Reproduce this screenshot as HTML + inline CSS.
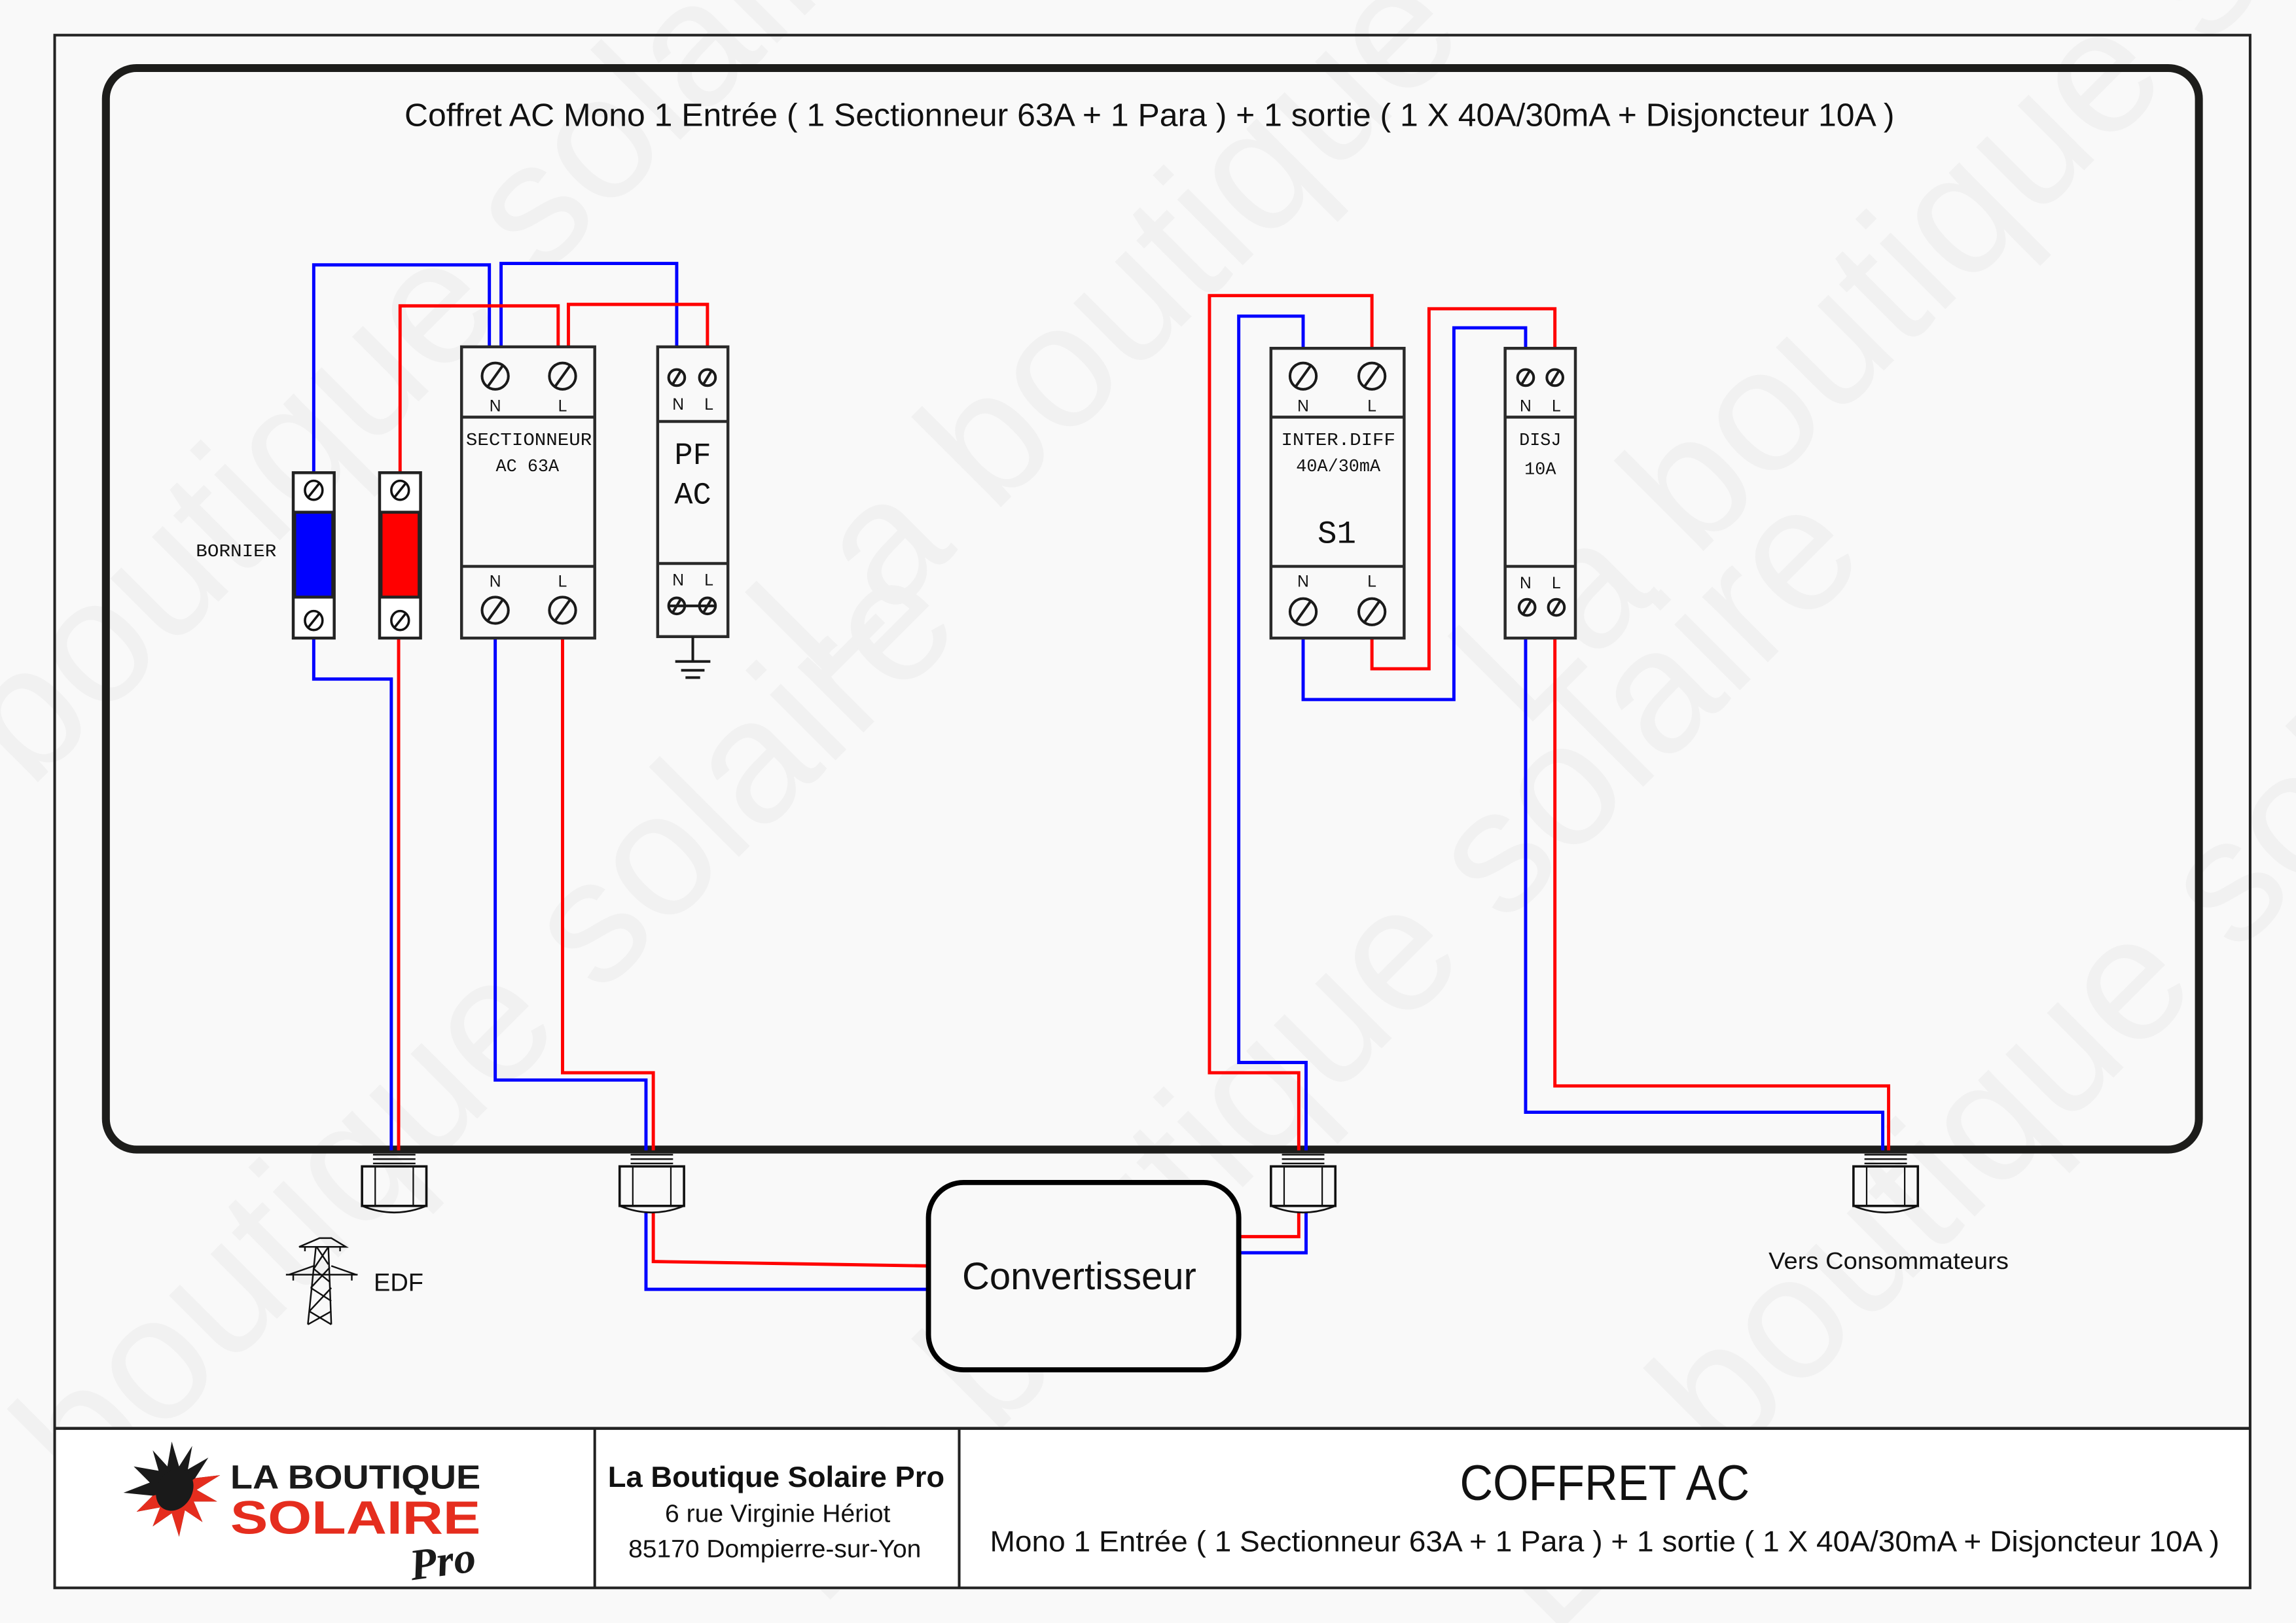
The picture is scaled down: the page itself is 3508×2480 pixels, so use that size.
<!DOCTYPE html>
<html><head><meta charset="utf-8"><style>
html,body{margin:0;padding:0;background:#f9f9f9;}
svg{display:block;}
.mono{font-family:"Liberation Mono",monospace;fill:#111;}
.sans{font-family:"Liberation Sans",sans-serif;fill:#111;}
</style></head><body>
<svg width="3508" height="2480" viewBox="0 0 1568 1109" xmlns="http://www.w3.org/2000/svg">
<rect x="0" y="0" width="1568" height="1109" fill="#f9f9f9"/>
<!-- watermark -->
<g font-family="Liberation Sans, sans-serif" font-size="120" fill="#f1f1f1">
<text x="0" y="0" transform="translate(560,470) rotate(-45)">La boutique solaire</text>
<text x="0" y="0" transform="translate(1040,500) rotate(-45)">La boutique solaire</text>
<text x="0" y="0" transform="translate(20,540) rotate(-45)">boutique solaire</text>
<text x="0" y="0" transform="translate(60,1030) rotate(-45)">boutique solaire</text>
<text x="0" y="0" transform="translate(560,1100) rotate(-45)">La boutique solaire</text>
<text x="0" y="0" transform="translate(1060,1120) rotate(-45)">La boutique solaire</text>
</g>
<!-- title block -->
<rect x="37" y="976" width="1500" height="109" fill="#fff"/>
<rect x="37" y="24" width="1500" height="1061" fill="none" stroke="#222" stroke-width="1.8"/>
<line x1="37" y1="976" x2="1537" y2="976" stroke="#222" stroke-width="2"/>
<line x1="406" y1="976" x2="406" y2="1085" stroke="#222" stroke-width="1.8"/>
<line x1="655" y1="976" x2="655" y2="1085" stroke="#222" stroke-width="1.8"/>
<!-- inner box -->
<rect x="72" y="46.5" width="1430" height="739" rx="21" fill="none" stroke="#1d1d1b" stroke-width="5.4"/>
<text class="sans" x="785" y="86" font-size="22" text-anchor="middle" textLength="1018" lengthAdjust="spacingAndGlyphs">Coffret AC Mono 1 Entrée ( 1 Sectionneur 63A + 1 Para ) + 1 sortie ( 1 X 40A/30mA  + Disjoncteur 10A )</text>

<!-- wires -->
<g fill="none" stroke-width="2.2" stroke-linejoin="miter">
<path d="M214,323 V181 H334 V237" stroke="#0000ff"/>
<path d="M342,237 V180 H462 V237" stroke="#0000ff"/>
<path d="M273,323 V209 H381 V237" stroke="#ff0000"/>
<path d="M388,237 V208 H483 V237" stroke="#ff0000"/>
<path d="M214,436 V464 H267 V786" stroke="#0000ff"/>
<path d="M272,436 V786" stroke="#ff0000"/>
<path d="M338,436 V738 H441 V786" stroke="#0000ff"/>
<path d="M384,436 V733 H446 V786" stroke="#ff0000"/>
<path d="M446,828 V862 L634,865" stroke="#ff0000"/>
<path d="M441,828 V881 H634" stroke="#0000ff"/>
<path d="M846,845 H887 V828" stroke="#ff0000"/>
<path d="M846,856 H892 V828" stroke="#0000ff"/>
<path d="M887,786 V733 H826 V202 H937 V238" stroke="#ff0000"/>
<path d="M892,786 V726 H846 V216 H890 V238" stroke="#0000ff"/>
<path d="M937,436 V457 H976 V211 H1062 V238" stroke="#ff0000"/>
<path d="M890,436 V478 H993 V224 H1042 V238" stroke="#0000ff"/>
<path d="M1042,436 V760 H1286 V786" stroke="#0000ff"/>
<path d="M1062,436 V742 H1290 V786" stroke="#ff0000"/>
</g>

<!-- bornier -->
<g stroke="#222" stroke-width="2">
<rect x="200" y="323" width="28" height="113" fill="#fff"/>
<rect x="201" y="350" width="26" height="58" fill="#0000ff"/>
<rect x="259" y="323" width="28" height="113" fill="#fff"/>
<rect x="260" y="350" width="26" height="58" fill="#ff0000"/>
</g>
<g fill="none" stroke="#111" stroke-width="1.6">
<ellipse cx="214" cy="335" rx="6" ry="6.5"/><line x1="210" y1="340" x2="218" y2="330"/>
<ellipse cx="214" cy="424" rx="6" ry="6.5"/><line x1="210" y1="429" x2="218" y2="419"/>
<ellipse cx="273" cy="335" rx="6" ry="6.5"/><line x1="269" y1="340" x2="277" y2="330"/>
<ellipse cx="273" cy="424" rx="6" ry="6.5"/><line x1="269" y1="429" x2="277" y2="419"/>
</g>
<text class="mono" x="161" y="380" font-size="12" text-anchor="middle" textLength="55" lengthAdjust="spacingAndGlyphs">BORNIER</text>

<!-- modules -->
<g fill="#f9f9f9" stroke="#2a2a2a" stroke-width="2">
<rect x="315" y="237" width="91" height="199"/>
<line x1="315" y1="285" x2="406" y2="285"/><line x1="315" y1="387" x2="406" y2="387"/>
<rect x="449" y="237" width="48" height="198"/>
<line x1="449" y1="288" x2="497" y2="288"/><line x1="449" y1="385" x2="497" y2="385"/>
<rect x="868" y="238" width="91" height="198"/>
<line x1="868" y1="285" x2="959" y2="285"/><line x1="868" y1="387" x2="959" y2="387"/>
<rect x="1028" y="238" width="48" height="198"/>
<line x1="1028" y1="285" x2="1076" y2="285"/><line x1="1028" y1="387" x2="1076" y2="387"/>
</g>
<g fill="none" stroke="#1a1a1a" stroke-width="1.8">
<circle cx="338" cy="257" r="9"/><line x1="333" y1="264" x2="343" y2="250"/>
<circle cx="384" cy="257" r="9"/><line x1="379" y1="264" x2="389" y2="250"/>
<circle cx="338" cy="417" r="9"/><line x1="333" y1="424" x2="343" y2="410"/>
<circle cx="384" cy="417" r="9"/><line x1="379" y1="424" x2="389" y2="410"/>
<circle cx="462" cy="258" r="5.5"/><line x1="459" y1="263" x2="465" y2="253"/>
<circle cx="483" cy="258" r="5.5"/><line x1="480" y1="263" x2="486" y2="253"/>
<circle cx="462" cy="414" r="5.5"/><line x1="459" y1="419" x2="465" y2="409"/>
<circle cx="483" cy="414" r="5.5"/><line x1="480" y1="419" x2="486" y2="409"/>
<line x1="456" y1="414" x2="489" y2="414"/>
<line x1="473" y1="435" x2="473" y2="452"/>
<line x1="461" y1="452" x2="485" y2="452"/><line x1="465" y1="458" x2="481" y2="458"/><line x1="468" y1="463" x2="478" y2="463"/>
<circle cx="890" cy="257" r="9"/><line x1="885" y1="264" x2="895" y2="250"/>
<circle cx="937" cy="257" r="9"/><line x1="932" y1="264" x2="942" y2="250"/>
<circle cx="890" cy="418" r="9"/><line x1="885" y1="425" x2="895" y2="411"/>
<circle cx="937" cy="418" r="9"/><line x1="932" y1="425" x2="942" y2="411"/>
<circle cx="1042" cy="258" r="5.5"/><line x1="1039" y1="263" x2="1045" y2="253"/>
<circle cx="1062" cy="258" r="5.5"/><line x1="1059" y1="263" x2="1065" y2="253"/>
<circle cx="1043" cy="415" r="5.5"/><line x1="1040" y1="420" x2="1046" y2="410"/>
<circle cx="1063" cy="415" r="5.5"/><line x1="1060" y1="420" x2="1066" y2="410"/>
</g>
<g class="sans" font-size="11" text-anchor="middle" style="font-family:'Liberation Sans',sans-serif">
<text x="338" y="281">N</text><text x="384" y="281">L</text>
<text x="338" y="401">N</text><text x="384" y="401">L</text>
<text x="463" y="280">N</text><text x="484" y="280">L</text>
<text x="463" y="400">N</text><text x="484" y="400">L</text>
<text x="890" y="281">N</text><text x="937" y="281">L</text>
<text x="890" y="401">N</text><text x="937" y="401">L</text>
<text x="1042" y="281">N</text><text x="1063" y="281">L</text>
<text x="1042" y="402">N</text><text x="1063" y="402">L</text>
</g>
<g class="mono" text-anchor="middle">
<text x="361" y="304" font-size="12" textLength="86" lengthAdjust="spacingAndGlyphs">SECTIONNEUR</text>
<text x="360" y="322" font-size="12">AC 63A</text>
<text x="473" y="317" font-size="21">PF</text>
<text x="473" y="344" font-size="21">AC</text>
<text x="914" y="304" font-size="12" textLength="78" lengthAdjust="spacingAndGlyphs">INTER.DIFF</text>
<text x="914" y="322" font-size="12">40A/30mA</text>
<text x="913" y="371" font-size="22">S1</text>
<text x="1052" y="304" font-size="12">DISJ</text>
<text x="1052" y="324" font-size="12">10A</text>
</g>

<!-- glands -->
<defs>
<g id="gl" fill="none" stroke="#111">
<g stroke-width="1.1"><line x1="-14.5" y1="789" x2="14.5" y2="789"/><line x1="-14.5" y1="792" x2="14.5" y2="792"/><line x1="-14.5" y1="795" x2="14.5" y2="795"/></g>
<rect x="-22" y="797" width="44" height="27" stroke-width="1.6"/>
<line x1="-13" y1="797" x2="-13" y2="824" stroke-width="1"/>
<line x1="13" y1="797" x2="13" y2="824" stroke-width="1"/>
<path d="M-22,824 Q0,833 22,824" stroke-width="1.2"/>
</g>
</defs>
<use href="#gl" x="269"/><use href="#gl" x="445"/><use href="#gl" x="890"/><use href="#gl" x="1288"/>

<!-- converter -->
<rect x="634" y="808" width="212" height="128" rx="24" fill="#f9f9f9" stroke="#000" stroke-width="3.5"/>
<text class="sans" x="737" y="881" font-size="26" text-anchor="middle" textLength="160" lengthAdjust="spacingAndGlyphs">Convertisseur</text>

<!-- pylon -->
<g fill="none" stroke="#111" stroke-width="1.1">
<path d="M218,846 H226 L236,852 H204 Z"/>
<line x1="208" y1="852" x2="208" y2="855"/><line x1="232" y1="852" x2="232" y2="855"/>
<path d="M215.5,852 L210,905 M224,852 L226,905"/>
<path d="M216,852 L224,864 M224,852 L214,867 M214,867 L225,876 M225,866 L212,880 M212,880 L226,889 M226,880 L211,896 M211,896 L226,905 M226,896 L210,905"/>
<line x1="195" y1="871" x2="244" y2="871"/>
<path d="M197,871 L214,865 M243,871 L226,865"/>
<line x1="200" y1="871" x2="200" y2="875"/><line x1="240" y1="871" x2="240" y2="875"/>
</g>
<text class="sans" x="255" y="882" font-size="17">EDF</text>
<text class="sans" x="1290" y="867" font-size="16" text-anchor="middle" textLength="164" lengthAdjust="spacingAndGlyphs">Vers Consommateurs</text>

<!-- logo -->
<g>
<polygon points="117,985 122,1002 131,988 128,1004 142,996 133,1010 150,1008 134,1018 148,1026 132,1026 138,1040 126,1032 122,1050 117,1034 104,1043 109,1030 93,1033 104,1022 84,1020 102,1013 91,1002 108,1005 104,991 114,1002" fill="#1a1a1a"/>
<polygon points="133,1010 150,1008 134,1018 148,1026 132,1026 138,1040 126,1032 122,1050 117,1034 104,1043 109,1030 93,1033 104,1022 122,1018" fill="#e52d1e"/>
<ellipse cx="119" cy="1018" rx="12" ry="15" fill="#1a1a1a" transform="rotate(30 119 1018)"/>
<text x="157" y="1017" font-family="Liberation Sans, sans-serif" font-weight="bold" font-size="23" fill="#1a1a1a" textLength="171" lengthAdjust="spacingAndGlyphs">LA BOUTIQUE</text>
<text x="157" y="1048" font-family="Liberation Sans, sans-serif" font-weight="bold" font-size="32" fill="#e52d1e" textLength="171" lengthAdjust="spacingAndGlyphs">SOLAIRE</text>
<text x="280" y="1077" font-family="Liberation Serif, serif" font-style="italic" font-weight="bold" font-size="30" fill="#1a1a1a" transform="rotate(-8 300 1070)">Pro</text>
</g>
<text class="sans" x="530" y="1016" font-size="20" font-weight="bold" text-anchor="middle" textLength="230" lengthAdjust="spacingAndGlyphs">La Boutique Solaire Pro</text>
<text class="sans" x="531" y="1040" font-size="17" text-anchor="middle" textLength="154" lengthAdjust="spacingAndGlyphs">6 rue Virginie Hériot</text>
<text class="sans" x="529" y="1064" font-size="17" text-anchor="middle" textLength="200" lengthAdjust="spacingAndGlyphs">85170 Dompierre-sur-Yon</text>
<text class="sans" x="1096" y="1025" font-size="34" text-anchor="middle" textLength="198" lengthAdjust="spacingAndGlyphs">COFFRET AC</text>
<text class="sans" x="1096" y="1060" font-size="20" text-anchor="middle" textLength="840" lengthAdjust="spacingAndGlyphs">Mono 1 Entrée ( 1 Sectionneur 63A + 1 Para ) + 1 sortie ( 1 X 40A/30mA  + Disjoncteur 10A )</text>
</svg>
</body></html>
